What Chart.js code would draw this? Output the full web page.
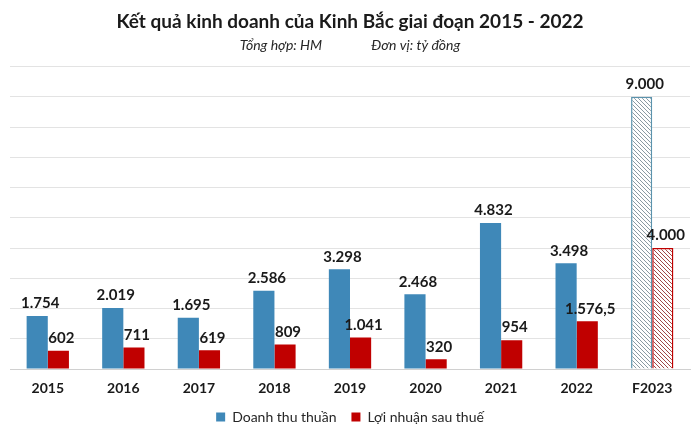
<!DOCTYPE html>
<html>
<head>
<meta charset="utf-8">
<script src="https://cdn.jsdelivr.net/npm/chart.js@4.4.0/dist/chart.umd.min.js"></script>
<style>
  html, body { margin: 0; padding: 0; background: #fff; }
  #wrap { width: 700px; height: 434px; }
</style>
</head>
<body>
<div id="wrap"><canvas id="chart"></canvas></div>
<script>
'use strict';

// chart data
const years = ['2015', '2016', '2017', '2018', '2019', '2020', '2021', '2022', 'F2023'];
const revenue = [1754, 2019, 1695, 2586, 3298, 2468, 4832, 3498, 9000];
const profit = [602, 711, 619, 809, 1041, 320, 954, 1576.5, 4000];

const blue = '#3f88b8';
const red = '#c00000';
const fontName = 'Lato, "Open Sans", sans-serif';

// hatched fill for the forecast bars
function makeHatch(lineColor) {
  let c = document.createElement('canvas');
  c.width = 4;
  c.height = 4;
  let g = c.getContext('2d');
  g.fillStyle = '#ffffff';
  g.fillRect(0, 0, 4, 4);
  g.strokeStyle = lineColor;
  g.lineWidth = 1;
  g.beginPath();
  g.moveTo(0, 0); g.lineTo(4, 4);
  g.moveTo(-1, 3); g.lineTo(1, 5);
  g.moveTo(3, -1); g.lineTo(5, 1);
  g.stroke();
  return g.createPattern(c, 'repeat');
}
const blueHatch = makeHatch('#8a9aa2');
const redHatch = makeHatch('#a04848');

function fmt(v) {
  let parts = String(v).split('.');
  let intPart = parts[0].replace(/\B(?=(\d{3})+(?!\d))/g, '.');
  return parts.length > 1 ? intPart + ',' + parts[1] : intPart;
}

// draws the value above each bar
const valueLabels = {
  id: 'valueLabels',
  afterDatasetsDraw(chart) {
    const ctx = chart.ctx;
    ctx.save();
    ctx.font = 'bold 15px ' + fontName;
    ctx.fillStyle = '#1a1a1a';
    ctx.textAlign = 'center';
    ctx.textBaseline = 'bottom';
    chart.data.datasets.forEach((ds, i) => {
      chart.getDatasetMeta(i).data.forEach((bar, j) => {
        ctx.fillText(fmt(ds.data[j]), bar.x + 3, bar.y - 5);
      });
    });
    ctx.restore();
  }
};

const ctx = document.getElementById('chart');
new Chart(ctx, {
  type: 'bar',
  data: {
    labels: years,
    datasets: [{
      label: 'Doanh thu thuần',
      data: revenue,
      backgroundColor: (c) => c.dataIndex === 8 ? blueHatch : blue,
      borderColor: (c) => c.dataIndex === 8 ? '#5b93ad' : blue,
      borderWidth: (c) => c.dataIndex === 8 ? 1.5 : 0
    }, {
      label: 'Lợi nhuận sau thuế',
      data: profit,
      backgroundColor: (c) => c.dataIndex === 8 ? redHatch : red,
      borderColor: red,
      borderWidth: (c) => c.dataIndex === 8 ? 1.5 : 0
    }]
  },
  options: {
    responsive: true,
    maintainAspectRatio: false,
    animation: false,
    categoryPercentage: 0.56,
    barPercentage: 1.0,
    layout: { padding: { left: 10, right: 10, top: 0, bottom: 0 } },
    plugins: {
      title: {
        display: true,
        text: 'Kết quả kinh doanh của Kinh Bắc giai đoạn 2015 - 2022',
        color: '#1a1a1a',
        font: { family: fontName, size: 19, weight: 'bold' },
        padding: { top: 10, bottom: 2 }
      },
      subtitle: {
        display: true,
        text: 'Tổng hợp: HM               Đơn vị: tỷ đồng',
        color: '#262626',
        font: { family: fontName, size: 14, style: 'italic' },
        padding: { top: 2, bottom: 13 }
      },
      legend: {
        position: 'bottom',
        labels: {
          boxWidth: 9,
          boxHeight: 9,
          padding: 15,
          color: '#262626',
          font: { family: fontName, size: 14, lineHeight: 1 }
        }
      },
      tooltip: { enabled: false }
    },
    scales: {
      x: {
        grid: { display: false, drawTicks: false },
        border: { color: '#d0d0d0' },
        ticks: {
          color: '#1a1a1a',
          padding: 12,
          font: { family: fontName, size: 14, weight: 'bold', lineHeight: 1 }
        },
        // let the year labels sit closer to the legend
        afterFit: (scale) => { scale.height -= 12; }
      },
      y: {
        min: 0,
        max: 10000,
        ticks: { display: false, stepSize: 1000 },
        border: { display: false },
        grid: { color: '#e3e3e3', drawTicks: false }
      }
    }
  },
  plugins: [valueLabels]
});
</script>
</body>
</html>
